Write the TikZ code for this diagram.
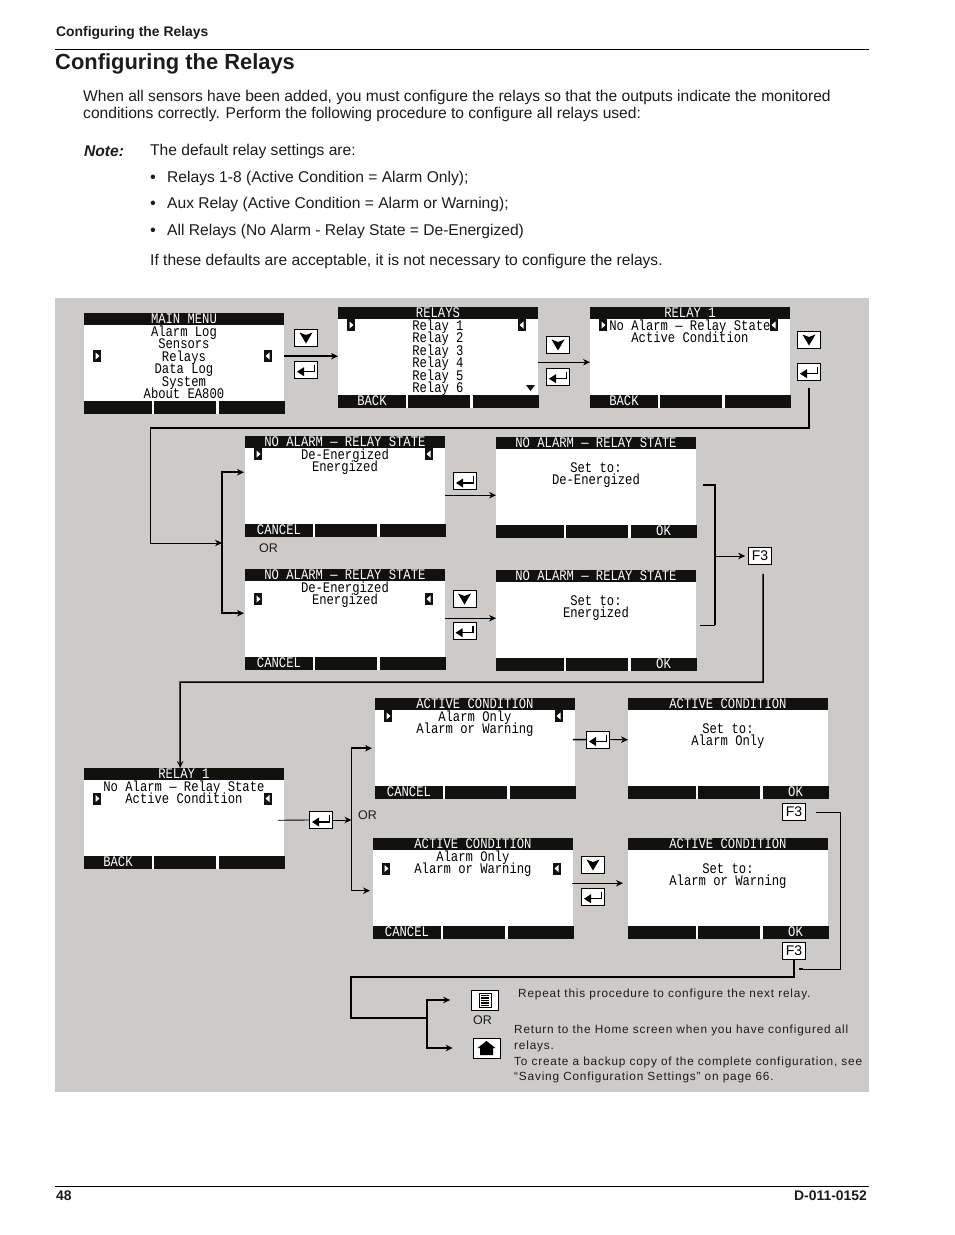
\documentclass[tikz,border=0pt]{standalone}
\usepackage{fontspec}
\setmainfont{Liberation Sans}
\newfontfamily\lcdfam{Liberation Mono}
\newfontfamily\panelfam[LetterSpace=7]{Liberation Sans}
\usetikzlibrary{arrows.meta,positioning,calc}
\definecolor{panelgrey}{HTML}{CCCBC9}
\definecolor{lcdblack}{HTML}{111110}
\definecolor{inkdark}{HTML}{1C1C1C}
\newcommand{\lcdfont}{\lcdfam\fontsize{12.2}{10.4}\selectfont\lineskiplimit=-10pt}
\newcommand{\bodyfont}{\fontsize{15.6}{16.8}\selectfont}
\newcommand{\panelfont}{\panelfam\fontsize{11.8}{15.7}\selectfont}
\newcommand{\boldsmall}{\bfseries\fontsize{13.9}{13.9}\selectfont}
\newcommand{\lcdscreen}[7][12.5]{
  \node[lcdbody] (#2) at (#3) {};
  \node[lcdtitle] (#2title) at ($(#2.north)+(0,6.2)$) {#4};
  \node[lcdtext, anchor=north] (#2text) at ($(#2.north)+(0,#1)$) {#5};
  \node[softkey, minimum width=67.5pt, anchor=south west] (#2keya) at (#2.south west) {#6};
  \node[softkey, minimum width=62pt, right=2pt of #2keya] (#2keyb) {};
  \node[softkey, minimum width=66pt, right=2pt of #2keyb] (#2keyc) {#7};
}
\newcommand{\lcdmarks}[2]{
  \pic at ($(#1.north west)+(13,#2)$) {markright};
  \pic at ($(#1.north west)+(184,#2)$) {markleft};
}
\begin{document}
\begin{tikzpicture}[
    x=1pt, y=-1pt,
    node distance=14pt,
    lcdbody/.style={rectangle, fill=white, anchor=north west, inner sep=0pt, minimum width=199.5pt, minimum height=101pt},
    lcdtitle/.style={rectangle, fill=lcdblack, text=white, inner sep=0pt, minimum width=199.5pt, minimum height=10.4pt, text height=7pt, text depth=0pt, font=\lcdfont, yscale=1.2, transform shape},
    lcdtext/.style={inner sep=0pt, align=center, font=\lcdfont, execute at begin node=\strut, yscale=1.2, transform shape},
    softkey/.style={rectangle, fill=lcdblack, text=white, inner sep=0pt, minimum height=10.8pt, text height=6.8pt, text depth=0pt, font=\lcdfont, yscale=1.2, transform shape},
    keybox/.style={rectangle, draw=black, fill=white, line width=0.7pt, inner sep=0pt, minimum width=23pt, minimum height=17pt},
    iconbox/.style={rectangle, draw=black, fill=white, line width=0.7pt, inner sep=0pt, minimum width=27pt, minimum height=20pt},
    fkey/.style={keybox, font=\fontsize{14}{14}\selectfont},
    arr/.style={-{Stealth[length=7pt,width=6.5pt]}, line width=1.5pt},
    arrthin/.style={-{Stealth[length=7pt,width=6.5pt]}, line width=0.9pt},
    wire/.style={line width=1.5pt},
    wirethin/.style={line width=0.9pt},
    pagetext/.style={anchor=west, inner sep=0pt, text=inkdark, font=\bodyfont},
    paneltext/.style={anchor=west, inner sep=0pt, text=inkdark, align=left, font=\panelfont},
    ortext/.style={anchor=west, inner sep=0pt, text=inkdark, font=\fontsize{12.5}{12.5}\selectfont},
    downicon/.pic={\fill (-6.5,-5.5) -- (0,-3) -- (6.5,-5.5) -- (0,5.5) -- cycle;},
    entericon/.pic={\fill (-9,2) -- (-2,-2.5) -- (-2,6.5) -- cycle; \draw[line width=1.3pt] (-3,2) -- (8.5,2) -- (8.5,-5);},
    markright/.pic={\fill[lcdblack] (-4,-6) rectangle (4,6); \fill[white] (-1.5,-3.5) -- (2.5,0) -- (-1.5,3.5) -- cycle;},
    markleft/.pic={\fill[lcdblack] (-4,-6) rectangle (4,6); \fill[white] (1.5,-3.5) -- (-2.5,0) -- (1.5,3.5) -- cycle;},
    listicon/.pic={\draw[line width=0.8pt] (-6,-7) rectangle (6,7); \foreach \ly in {-4.5,-2,0.5,3,5.2} \draw[line width=1.1pt] (-4,\ly) -- (4,\ly);},
    homeicon/.pic={\fill (-9,0) -- (0,-7) -- (9,0) -- (6.5,0) -- (6.5,7) -- (-6.5,7) -- (-6.5,0) -- cycle;}
  ]
    \useasboundingbox (0,0) rectangle (954,1235);
    \fill[white] (0,0) rectangle (954,1235);

    \node[pagetext, font=\boldsmall] (runhead) at (56,33) {Configuring the Relays};
    \draw[line width=0.7pt] (55,49.5) -- (869,49.5);
    \node[pagetext, font=\bfseries\fontsize{21.9}{21.9}\selectfont] (heading) at (55,64) {Configuring the Relays};
    \node[pagetext, anchor=north west, align=left] (intro) at (83,90) {When all sensors have been added, you must configure the relays so that the outputs indicate the monitored\\conditions correctly. Perform the following procedure to configure all relays used:};
    \node[pagetext, font=\bfseries\itshape\bodyfont] (note) at (84,151) {Note:};
    \node[pagetext] (notea) at (150,151) {The default relay settings are:};
    \node[pagetext, font=\bfseries\itshape\bodyfont] (bulla) at (150,179) {\textbullet};
    \node[pagetext] (noteb) at (167,178) {Relays 1-8 (Active Condition = Alarm Only);};
    \node[pagetext, font=\bfseries\itshape\bodyfont] (bullb) at (150,205) {\textbullet};
    \node[pagetext] (notec) at (167,204) {Aux Relay (Active Condition = Alarm or Warning);};
    \node[pagetext, font=\bfseries\itshape\bodyfont] (bullc) at (150,232) {\textbullet};
    \node[pagetext] (noted) at (167,231) {All Relays (No Alarm - Relay State = De-Energized)};
    \node[pagetext] (notee) at (150,261) {If these defaults are acceptable, it is not necessary to configure the relays.};

    \fill[panelgrey] (55,298) rectangle (869,1092);

    \lcdscreen{mainmenu}{84,313}{MAIN MENU}{Alarm Log\\Sensors\\Relays\\Data Log\\System\\About EA800}{}{}
    \lcdmarks{mainmenu}{43}
    \lcdscreen{relays}{338,307}{RELAYS}{Relay 1\\Relay 2\\Relay 3\\Relay 4\\Relay 5\\Relay 6}{BACK}{}
    \lcdmarks{relays}{18}
    \fill[lcdblack] (526,385) -- (535,385) -- (530.5,391) -- cycle;
    \lcdscreen{relayone}{590,307}{RELAY 1}{No Alarm — Relay State\\Active Condition}{BACK}{}
    \lcdmarks{relayone}{18}
    \lcdscreen{noalarma}{245,436}{NO ALARM — RELAY STATE}{De-Energized\\Energized}{CANCEL}{}
    \lcdmarks{noalarma}{18}
    \lcdscreen[25]{setde}{496,437}{NO ALARM — RELAY STATE}{Set to:\\De-Energized}{}{OK}
    \lcdscreen{noalarmb}{245,569}{NO ALARM — RELAY STATE}{De-Energized\\Energized}{CANCEL}{}
    \lcdmarks{noalarmb}{30}
    \lcdscreen[25]{seten}{496,570}{NO ALARM — RELAY STATE}{Set to:\\Energized}{}{OK}
    \lcdscreen{relaytwo}{84,768}{RELAY 1}{No Alarm — Relay State\\Active Condition}{BACK}{}
    \lcdmarks{relaytwo}{30.5}
    \lcdscreen{activea}{375,698}{ACTIVE CONDITION}{Alarm Only\\Alarm or Warning}{CANCEL}{}
    \lcdmarks{activea}{18}
    \lcdscreen[25]{setalarm}{628,698}{ACTIVE CONDITION}{Set to:\\Alarm Only}{}{OK}
    \lcdscreen{activeb}{373,838}{ACTIVE CONDITION}{Alarm Only\\Alarm or Warning}{CANCEL}{}
    \lcdmarks{activeb}{30.5}
    \lcdscreen[25]{setwarn}{628,838}{ACTIVE CONDITION}{Set to:\\Alarm or Warning}{}{OK}

    \node[keybox] (downa) at (306,338) {};
    \node[keybox, below=of downa] (entera) {};
    \node[keybox] (downb) at (558,345) {};
    \node[keybox, below=of downb] (enterb) {};
    \node[keybox] (downc) at (809,340) {};
    \node[keybox, below=of downc] (enterc) {};
    \node[keybox] (enterd) at (465,481) {};
    \node[keybox] (downe) at (464.5,599) {};
    \node[keybox, below=of downe] (entere) {};
    \node[keybox] (enterf) at (321,820) {};
    \node[keybox] (enterg) at (598,739.5) {};
    \node[keybox] (downh) at (593,865) {};
    \node[keybox, below=of downh] (enterh) {};
    \foreach \keyname in {downa,downb,downc,downe,downh} \pic at (\keyname) {downicon};
    \foreach \keyname in {entera,enterb,enterc,enterd,entere,enterf,enterg,enterh} \pic at (\keyname) {entericon};

    \node[fkey] (fthreea) at (760,556) {F3};
    \node[fkey] (fthreeb) at (794,812) {F3};
    \node[fkey] (fthreec) at (794,951) {F3};
    \node[iconbox] (menukey) at (485,1000) {};
    \node[iconbox] (homekey) at (486.5,1048) {};
    \pic at (menukey) {listicon};
    \pic at (homekey) {homeicon};

    \node[ortext] (ora) at (259,548) {OR};
    \node[ortext] (orb) at (358,815) {OR};
    \node[ortext] (orc) at (473,1020) {OR};
    \node[paneltext] (repeat) at (518,994) {Repeat this procedure to configure the next relay.};
    \node[paneltext, anchor=north west] (return) at (514,1025) {Return to the Home screen when you have configured all\\relays.\\To create a backup copy of the complete configuration, see\\“Saving Configuration Settings” on page 66.};

    \coordinate (turna) at (150,428);
    \coordinate (forka) at (222,543);
    \coordinate (bracka) at (703,485);
    \coordinate (brackb) at (700,625);
    \coordinate (brackm) at (715,556);
    \coordinate (turnb) at (180,682);
    \coordinate (forkb) at (351.5,820);
    \coordinate (loopa) at (840,969);
    \coordinate (loopb) at (799,969);
    \coordinate (turnc) at (351,977);
    \coordinate (forkc) at (427,1018);

    \draw[arr] ([yshift=7.5pt]mainmenu.east) -- ([yshift=1.5pt]relays.west);
    \draw[arrthin] ([yshift=-4.5pt]relays.east) -- ([yshift=-4.5pt]relayone.west);
    \draw[wire, shorten <=7pt] (enterc.south) |- (turna);
    \draw[arrthin] (turna) |- (forka);
    \draw[arr, shorten >=1pt] (forka) |- ([yshift=14.5pt]noalarma.west);
    \draw[arr, shorten >=1pt] (forka) |- ([yshift=6.5pt]noalarmb.west);
    \draw[arrthin] ([yshift=-8.5pt]noalarma.east) -- ([yshift=-7.5pt]setde.west);
    \draw[arrthin] ([yshift=1.5pt]noalarmb.east) -- ([yshift=2.5pt]seten.west);
    \draw[wire] (bracka) -| (brackm);
    \draw[wire] (brackm) -- (brackm |- brackb);
    \draw[wirethin] (brackm |- brackb) -- (brackb);
    \draw[arrthin, shorten >=3pt] (brackm) -- (fthreea.west);
    \draw[arr, shorten <=9pt] ([xshift=3pt]fthreea.south) |- (turnb) -- ([xshift=-3.75pt]relaytwo.north);
    \draw[wirethin, shorten <=-6pt] ([yshift=-1.5pt]relaytwo.east) -- (enterf.west);
    \draw[arrthin] (enterf.east) -- (forkb);
    \draw[arr, shorten >=3pt] (forkb) |- ([yshift=0.5pt]activea.west);
    \draw[arr, shorten >=3pt] (forkb) |- ([yshift=-2pt]activeb.west);
    \draw[wire, shorten <=-2pt] ([yshift=9pt]activea.east) -- (enterg.west);
    \draw[arrthin] (enterg.east) -- ([yshift=9pt]setalarm.west);
    \draw[arrthin, shorten >=5pt, shorten <=-1pt] ([yshift=5.5pt]activeb.east) -- ([yshift=5.5pt]setwarn.west);
    \draw[wirethin, shorten <=10pt] (fthreeb.east) -| (loopa) -- (loopb);
    \draw[line width=2.5pt] (loopb) -- ++(4,0);
    \draw[wire] (fthreec.south) |- (turnc) |- (forkc);
    \draw[arr, shorten >=21pt] (forkc) |- (menukey.west);
    \draw[arr, shorten >=20pt] (forkc) |- (homekey.west);

    \draw[line width=0.7pt] (55,1186) -- (869,1186);
    \node[pagetext, font=\boldsmall] (pagenum) at (56,1196) {48};
    \node[pagetext, anchor=east, font=\boldsmall] (docnum) at (867,1196) {D-011-0152};
  \end{tikzpicture}
\end{document}
